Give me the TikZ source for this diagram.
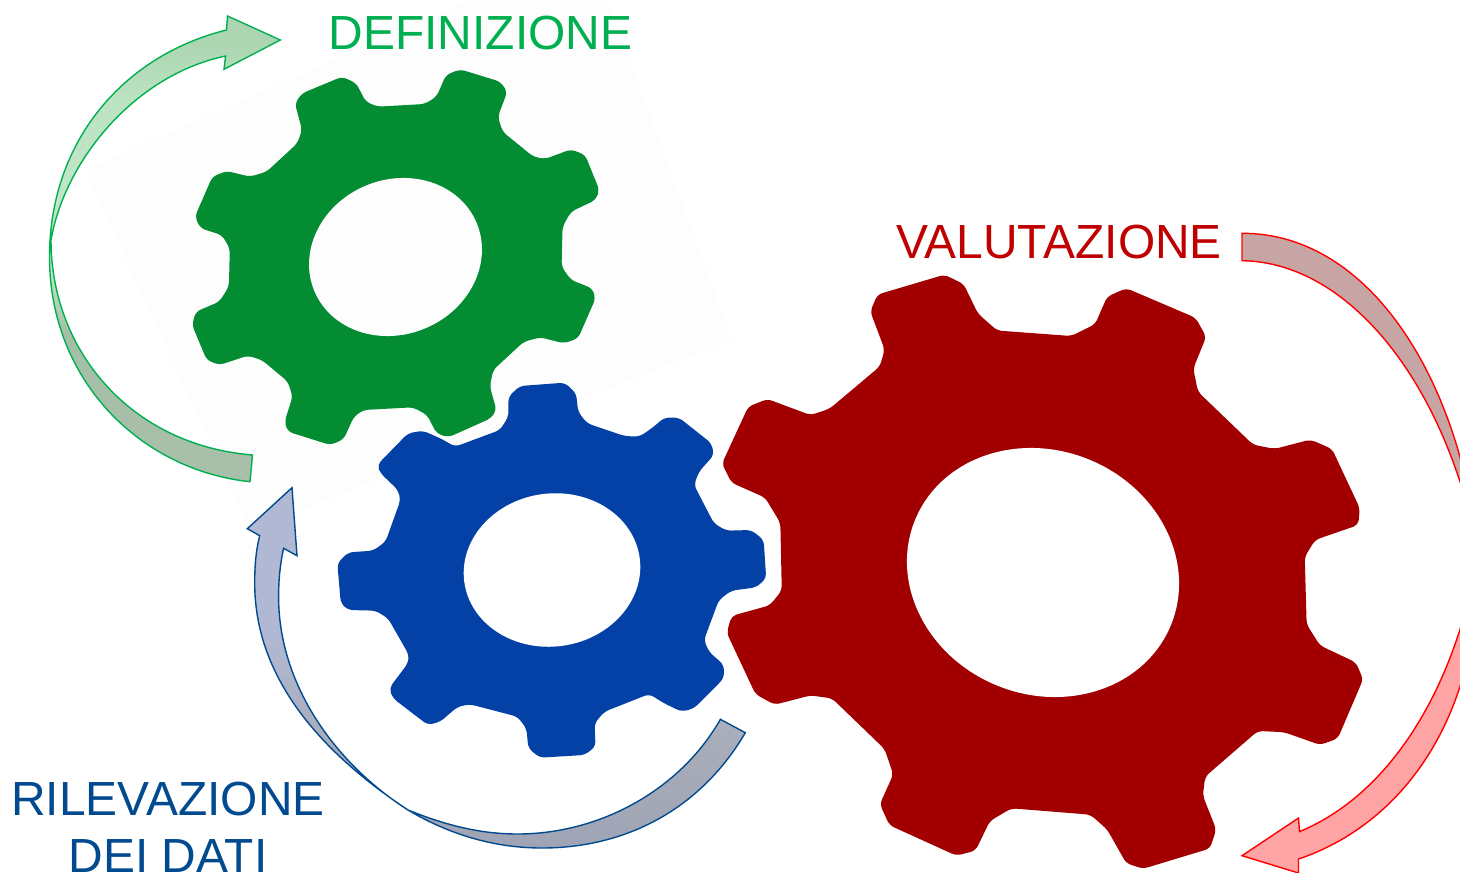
\documentclass[tikz,border=0pt]{standalone}
\usepackage{fontspec}
\setmainfont{Liberation Sans}
\definecolor{gearGreen}{HTML}{038C32}
\definecolor{gearBlue}{HTML}{0441A6}
\definecolor{gearRed}{HTML}{A20000}
\definecolor{txtGreen}{HTML}{00B050}
\definecolor{txtRed}{HTML}{C00000}
\definecolor{txtBlue}{HTML}{024A8F}
\definecolor{sheet}{HTML}{FDFDFD}
\definecolor{gA}{HTML}{A8BFAA}\definecolor{gB}{HTML}{A5BFA7}\definecolor{gC}{HTML}{C6E8CB}\definecolor{gD}{HTML}{BBE3C2}\definecolor{gE}{HTML}{ACD6B2}
\pgfdeclareverticalshading{greenbandB}{100bp}{color(0bp)=(gA); color(28bp)=(gA); color(41bp)=(gB); color(48bp)=(gC); color(66bp)=(gD); color(72bp)=(gE); color(100bp)=(gE)}
\definecolor{bA}{HTML}{9FA4B5}\definecolor{bB}{HTML}{A9ADB9}\definecolor{bC}{HTML}{B0B8D3}
\pgfdeclareverticalshading{blueband}{100bp}{color(0bp)=(bA); color(25bp)=(bA); color(40bp)=(bB); color(54bp)=(bC); color(100bp)=(bC)}
\definecolor{rA}{HTML}{FEA4A4}\definecolor{rB}{HTML}{C8A5A5}
\pgfdeclareverticalshading{redband}{100bp}{color(0bp)=(rA); color(43bp)=(rA); color(55bp)=(rB); color(100bp)=(rB)}
\tikzset{
  gearshape/.style={draw=none,fill=#1,rounded corners=5pt},
  holeshape/.style={draw=none,fill=#1},
  caption/.style={inner sep=0pt,anchor=base,align=center,font=\fontsize{47.9}{53}\selectfont},
  band/.style={line width=1.4pt,line join=miter}
}
\begin{document}
\begin{tikzpicture}[x=1pt,y=-1pt]
\useasboundingbox (0,0) rectangle (1460,873);
\clip (0,0) rectangle (1460,873);
% faint sheet behind the green gear
\fill[sheet] (85,170) -- (470,0) -- (608,0) -- (732,340) -- (250,530) -- cycle;
% green gear
\begin{scope}[x=0.47192pt,y=-0.33333pt]
\fill[gearshape=gearGreen] plot[sharp cycle] coordinates {
(625,310)(640,280)(725,230)(755,250)(775,305)(800,320)(900,312)(925,290)(945,225)(975,208)(1060,245)(1075,275)(1055,350)(1065,395)(1130,470)(1155,477)(1210,448)(1240,465)(1270,570)(1262,600)(1210,635)(1192,680)(1190,800)(1210,840)(1255,865)(1262,895)(1225,1015)(1195,1030)(1145,1012)(1110,1025)(1045,1110)(1038,1160)(1052,1230)(1040,1255)(950,1312)(925,1300)(905,1245)(875,1222)(770,1230)(750,1250)(728,1318)(700,1335)(610,1295)(603,1265)(620,1190)(610,1145)(555,1080)(525,1067)(465,1095)(438,1080)(407,975)(415,935)(465,905)(485,860)(487,745)(470,705)(425,685)(413,650)(450,530)(480,513)(530,530)(565,515)(630,430)(640,390)};
\end{scope}
\fill[holeshape=sheet] (395.5,257) ellipse [x radius=88pt,y radius=77.3pt,rotate=23];
% blue gear
\begin{scope}[shift={(0pt,-370pt)},x=0.49751pt,y=-0.33333pt]
\fill[gearshape=gearBlue] plot[sharp cycle] coordinates {
(1022,80)(1045,48)(1135,38)(1158,70)(1162,125)(1180,160)(1255,198)(1285,200)(1310,175)(1335,143)(1365,143)(1430,220)(1435,255)(1405,305)(1395,345)(1435,460)(1460,482)(1510,480)(1535,510)(1540,625)(1520,652)(1470,662)(1445,690)(1415,810)(1425,845)(1455,885)(1455,925)(1395,1015)(1370,1025)(1335,1000)(1305,972)(1215,1025)(1195,1060)(1197,1130)(1175,1155)(1085,1163)(1062,1135)(1058,1075)(1040,1040)(945,1003)(920,1010)(885,1055)(860,1065)(790,985)(782,955)(820,880)(822,855)(780,745)(755,722)(700,720)(685,700)(678,580)(700,547)(750,542)(775,515)(805,390)(800,360)(765,310)(758,285)(820,190)(850,182)(885,205)(915,230)(1005,180)(1022,140)};
\end{scope}
\fill[holeshape=white] (552,570) ellipse [x radius=88.5pt,y radius=76.5pt,rotate=8];
% red gear
\begin{scope}[shift={(710pt,-210pt)},x=0.47847pt,y=-0.42283pt]
\fill[gearshape=gearRed] plot[sharp cycle] coordinates {
(335,240)(350,200)(490,153)(530,175)(560,245)(600,285)(755,298)(805,270)(830,205)(870,185)(1015,255)(1037,300)(1010,375)(1020,430)(1135,555)(1180,565)(1255,543)(1300,565)(1358,705)(1355,745)(1265,780)(1243,820)(1247,980)(1275,1030)(1350,1070)(1365,1110)(1312,1250)(1275,1265)(1200,1235)(1145,1232)(1035,1340)(1030,1385)(1058,1465)(1045,1510)(905,1558)(870,1545)(830,1465)(795,1430)(630,1415)(585,1445)(555,1515)(515,1527)(375,1455)(355,1405)(383,1335)(365,1275)(255,1155)(210,1148)(135,1170)(95,1145)(35,1000)(45,960)(125,935)(150,900)(147,740)(115,680)(45,645)(25,600)(80,465)(120,447)(210,485)(250,470)(355,370)(365,330)};
\end{scope}
\fill[holeshape=white] (1043,572.5) ellipse [x radius=138.3pt,y radius=122pt,rotate=-22.5];
% green arrow
\draw[band,draw=txtGreen,shading=greenbandB]
 (250,481.7) .. controls (140,470) and (49.5,380) .. (49.5,257)
 .. controls (49.5,140) and (125,55) .. (226.5,30)
 -- (227.5,16) -- (280.3,40) -- (224,69.3) -- (225.6,56)
 .. controls (135,75) and (65,160) .. (51,240)
 .. controls (51,350) and (130,445) .. (252.5,455) -- cycle;
% blue arrow
\draw[band,draw=txtBlue,shading=blueband]
 (745.3,732.7) .. controls (700,810) and (625,848) .. (542,848)
 .. controls (490,848) and (445,832) .. (408,810)
 .. controls (310,745) and (254.7,670) .. (254.7,583)
 .. controls (254.7,565) and (256,550) .. (259.7,535.7)
 -- (247.3,528.7) -- (292,487.7) -- (297,555.7) -- (283.6,548.3)
 .. controls (280,565) and (278.6,580) .. (278.6,597)
 .. controls (278.6,680) and (330,760) .. (408,810)
 .. controls (445,825) and (480,834) .. (517.4,834)
 .. controls (600,834) and (680,790) .. (720.4,719.3) -- cycle;
% red arrow
\draw[band,draw=red,shading=redband]
 (1242,233.3) .. controls (1370,233) and (1460,380) .. (1478,552)
 .. controls (1482,720) and (1400,825) .. (1298.5,859)
 -- (1298.5,873) -- (1242,855.7) -- (1298.5,818) -- (1299.5,831.6)
 .. controls (1400,790) and (1460,670) .. (1478,552)
 .. controls (1446,385) and (1350,262) .. (1242,260.7) -- cycle;
% captions
\node[caption,text=txtGreen] (def) at (480.5,49.7) {DEFINIZIONE};
\node[caption,text=txtRed] (val) at (1059,258) {VALUTAZIONE};
\node[caption,text=txtBlue] (rilb) at (168,815.5) {RILEVAZIONE};
\node[caption,text=txtBlue] (ril) at (168,872) {DEI DATI};
\end{tikzpicture}
\end{document}
